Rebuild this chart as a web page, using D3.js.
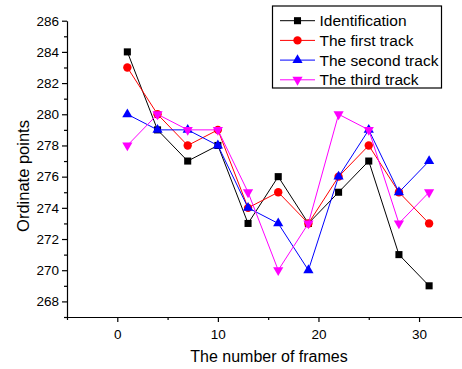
<!DOCTYPE html>
<html>
<head>
<meta charset="utf-8">
<script src="https://cdn.jsdelivr.net/npm/d3@7"></script>
<style>
  body { margin: 0; background: #fff; }
  svg { font-family: "Liberation Sans", Arial, sans-serif; }
</style>
</head>
<body>
<svg id="svg"></svg>
<script>
const frames = [1, 4, 7, 10, 13, 16, 19, 22, 25, 28, 31];
const identification = [284, 279, 277, 278, 273, 276, 273, 275, 277, 271, 269];
const firstTrack = [283, 280, 278, 279, 274, 275, 273, 276, 278, 275, 273];
const secondTrack = [280, 279, 279, 278, 274, 273, 270, 276, 279, 275, 277];
const thirdTrack = [278, 280, 279, 279, 275, 270, 273, 280, 279, 273, 275];
const seriesNames = ["Identification", "The first track", "The second track", "The third track"];
const xTicks = [0, 10, 20, 30];
const yTicks = [268, 270, 272, 274, 276, 278, 280, 282, 284, 286];

const width = 462, height = 369;
const margin = {top: 20.7, right: 0, bottom: 52, left: 67};

const svg = d3.select("svg")
  .attr("width", width)
  .attr("height", height);

const x = d3.scaleLinear().domain([-5, 34.27]).range([margin.left, width - margin.right]);
const y = d3.scaleLinear().domain([267, 286]).range([height - margin.bottom, margin.top]);

// minor ticks first, then major axes
svg.append("g")
  .attr("transform", `translate(0,${height - margin.bottom})`)
  .call(d3.axisBottom(x).tickValues([-5, 5, 15, 25]).tickSize(3).tickFormat(""))
  .call(g => g.select(".domain").remove());
svg.append("g")
  .attr("transform", `translate(${margin.left},0)`)
  .call(d3.axisLeft(y).tickValues(d3.range(267, 286, 2)).tickSize(3).tickFormat(""))
  .call(g => g.select(".domain").remove());

const xAxis = svg.append("g")
  .attr("transform", `translate(0,${height - margin.bottom})`)
  .call(d3.axisBottom(x).tickValues(xTicks).tickSize(5).tickSizeOuter(0).tickPadding(7));
const yAxis = svg.append("g")
  .attr("transform", `translate(${margin.left},0)`)
  .call(d3.axisLeft(y).tickValues(yTicks).tickSize(5).tickSizeOuter(0).tickPadding(3));

svg.selectAll(".tick text").attr("font-size", 13.5).attr("fill", "#000").attr("font-family", "Liberation Sans, Arial, sans-serif");
svg.selectAll(".domain, .tick line").attr("stroke", "#000").attr("stroke-width", 1.2);

svg.append("text")
  .attr("x", 269).attr("y", 362)
  .attr("text-anchor", "middle")
  .attr("font-size", 16)
  .text("The number of frames");
svg.append("text")
  .attr("transform", `translate(29,176) rotate(-90)`)
  .attr("text-anchor", "middle")
  .attr("font-size", 16.5)
  .text("Ordinate points");

const series = [
  {name: seriesNames[0], values: identification, color: "#000000", symbol: d3.symbolSquare, size: 50, rot: 0},
  {name: seriesNames[1], values: firstTrack, color: "#ff0000", symbol: d3.symbolCircle, size: 55, rot: 0},
  {name: seriesNames[2], values: secondTrack, color: "#0000ff", symbol: d3.symbolTriangle, size: 45, rot: 0},
  {name: seriesNames[3], values: thirdTrack, color: "#ff00ff", symbol: d3.symbolTriangle, size: 45, rot: 180}
];

const line = d3.line()
  .x((d, i) => x(frames[i]))
  .y(d => y(d));

series.forEach(s => {
  const g = svg.append("g");
  g.append("path")
    .datum(s.values)
    .attr("d", line)
    .attr("fill", "none")
    .attr("stroke", s.color)
    .attr("stroke-width", 1);
  g.selectAll("path.pt")
    .data(s.values)
    .enter()
    .append("path")
    .attr("class", "pt")
    .attr("d", d3.symbol().type(s.symbol).size(s.size))
    .attr("transform", (d, i) => `translate(${x(frames[i])},${y(d)}) rotate(${s.rot})`)
    .attr("fill", s.color);
});

// legend
const legend = svg.append("g");
legend.append("rect")
  .attr("x", 272.5).attr("y", 6)
  .attr("width", 169).attr("height", 82)
  .attr("fill", "#fff")
  .attr("stroke", "#000")
  .attr("stroke-width", 1.2);
series.forEach((s, i) => {
  const cy = 20.7 + i * 19.7;
  legend.append("line")
    .attr("x1", 280).attr("x2", 315)
    .attr("y1", cy).attr("y2", cy)
    .attr("stroke", s.color);
  legend.append("path")
    .attr("d", d3.symbol().type(s.symbol).size(s.size))
    .attr("transform", `translate(297.5,${cy}) rotate(${s.rot})`)
    .attr("fill", s.color);
  legend.append("text")
    .attr("x", 319.5).attr("y", cy + 5.5)
    .attr("font-size", 15.5)
    .text(s.name);
});
</script>
</body>
</html>
